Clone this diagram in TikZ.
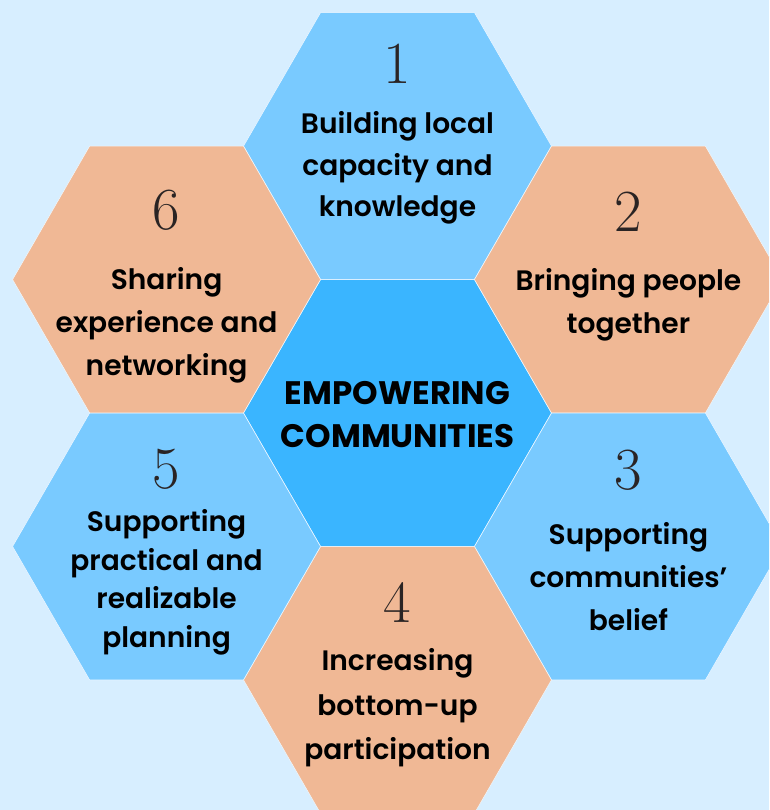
\documentclass[tikz,border=0pt]{standalone}
\usepackage{fontspec}
\setmainfont{Poppins}
\newfontfamily\semifont{Poppins}[UprightFont=* SemiBold, BoldFont=* Bold]
\newfontfamily\numfont{Latin Modern Roman}
\usepackage{xcolor}
\usetikzlibrary{shapes.geometric, positioning}

\definecolor{bgblue}{HTML}{D7EEFF}
\definecolor{hexblue}{HTML}{79CAFF}
\definecolor{midblue}{HTML}{3AB5FF}
\definecolor{hexorange}{HTML}{F0B895}
\definecolor{numink}{HTML}{2A2424}

\begin{document}
\begin{tikzpicture}[x=0.02cm, y=-0.02cm, on grid,
    hex/.style={regular polygon, regular polygon sides=6, minimum size=6.16cm, inner sep=0pt, outer sep=0pt, draw=white!60!bgblue, line width=0.3pt},
    num/.style={font=\numfont\fontsize{34}{34}\selectfont, text=numink, inner sep=0pt},
    txt/.style={font=\semifont\fontsize{16}{24.5}\selectfont, align=center, inner sep=0pt}]

    \useasboundingbox (0,0) rectangle (769,810);
    \clip (0,0) rectangle (769,810);
    \fill[bgblue] (0,0) rectangle (769,810);

    \node[hex, fill=midblue] (H0) at (397.5,413) {};
    \node[hex, fill=hexblue, above=5.34cm of H0] (H1) {};
    \node[hex, fill=hexorange, above right=2.67cm and 4.62cm of H0] (H2) {};
    \node[hex, fill=hexblue, below right=2.67cm and 4.62cm of H0] (H3) {};
    \node[hex, fill=hexorange, below=5.34cm of H0] (H4) {};
    \node[hex, fill=hexblue, below left=2.67cm and 4.62cm of H0] (H5) {};
    \node[hex, fill=hexorange, above left=2.67cm and 4.62cm of H0] (H6) {};

    % numbers
    \node[num, above=1.64cm of H1] (N1) {1};
    \node[num, above=1.36cm of H2] (N2) {2};
    \node[num, above=1.52cm of H3] (N3) {3};
    \node[num, above=1.54cm of H4] (N4) {4};
    \node[num, above=1.54cm of H5] (N5) {5};
    \node[num, above=1.38cm of H6] (N6) {6};

    % texts
    \node[txt, font=\semifont\fontsize{16}{23.5}\selectfont, below=0.44cm of H1] (T1) {Building local\\capacity and\\knowledge};
    \node[txt, below=0.50cm of H2] (T2) {Bringing people\\together};
    \node[txt, below=0.60cm of H3] (T3) {Supporting\\communities’\\belief};
    \node[txt, font=\semifont\fontsize{16}{25.2}\selectfont, below=0.56cm of H4] (T4) {Increasing\\bottom-up\\participation};
    \node[txt, font=\semifont\fontsize{16}{22}\selectfont, below=0.72cm of H5] (T5) {Supporting\\practical and\\realizable\\planning};
    \node[txt, below=0.92cm of H6] (T6) {Sharing\\experience and\\networking};
    \node[txt, font=\semifont\bfseries\fontsize{18.5}{24.5}\selectfont, below=0.04cm of H0] (T0) {EMPOWERING\\COMMUNITIES};

\end{tikzpicture}
\end{document}
